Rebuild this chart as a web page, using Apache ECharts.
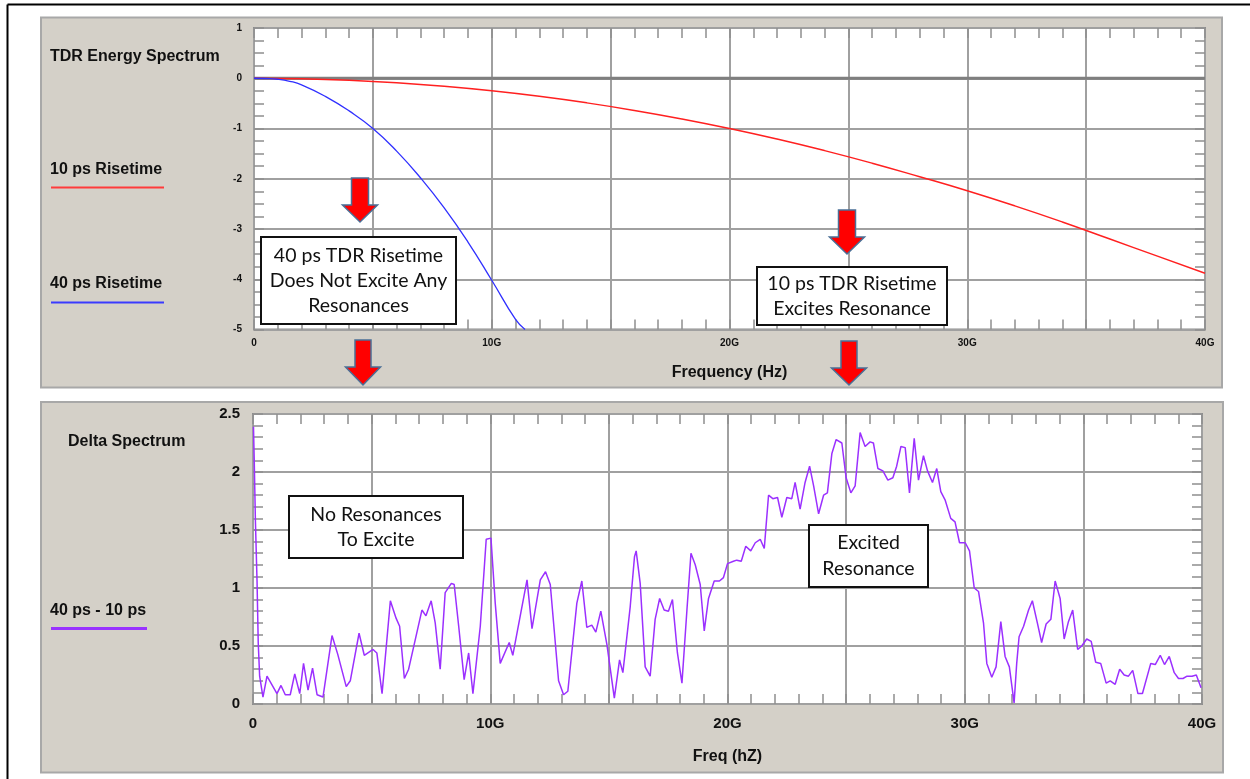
<!DOCTYPE html>
<html><head><meta charset="utf-8">
<script src="https://cdn.jsdelivr.net/npm/echarts@6/dist/echarts.min.js"></script>
<style>html,body{margin:0;padding:0;background:#fff}#c{width:1250px;height:779px}</style>
</head><body><div id="c"></div>
<script>
// ---------- data ----------
const xTickLabels = ['0', '10G', '20G', '30G', '40G'];

// TDR energy spectrum, 10 ps risetime (red)
const freq10ps = [0, 2, 4, 6, 8, 10, 12, 14, 16, 18, 20, 22, 24, 26, 28, 30, 32, 34, 36, 38, 40];
const energy10ps = [0, -0.01, -0.04, -0.09, -0.16, -0.25, -0.36, -0.49, -0.64, -0.81, -1.0, -1.21, -1.44, -1.69, -1.96, -2.24, -2.54, -2.86, -3.2, -3.54, -3.88];

// TDR energy spectrum, 40 ps risetime (blue)
const freq40ps = [0, 0.5, 1, 1.5, 2, 3, 4, 5, 6, 7, 8, 9, 10, 11, 11.4];
const energy40ps = [0, -0.005, -0.02, -0.06, -0.13, -0.36, -0.65, -1.0, -1.45, -1.98, -2.58, -3.26, -4.02, -4.8, -5.0];

// Delta spectrum (40 ps - 10 ps), purple
const deltaFreq = [0.02, 0.05, 0.1, 0.17, 0.22, 0.28, 0.42, 0.59, 1.01, 1.18, 1.36, 1.57, 1.76, 1.97, 2.13, 2.32, 2.51, 2.7, 2.95, 3.33, 3.57, 3.93, 4.1, 4.47, 4.69, 5.06, 5.22, 5.44, 5.79, 6.03, 6.18, 6.38, 6.56, 7.12, 7.29, 7.51, 7.68, 7.89, 8.1, 8.36, 8.48, 8.67, 8.9, 9.09, 9.27, 9.58, 9.83, 10.03, 10.21, 10.42, 10.8, 10.95, 11.55, 11.76, 12.11, 12.33, 12.53, 12.88, 13.09, 13.27, 13.65, 13.86, 14.07, 14.28, 14.45, 14.66, 14.92, 15.23, 15.45, 15.59, 15.9, 16.08, 16.15, 16.32, 16.53, 16.74, 16.95, 17.14, 17.33, 17.51, 17.68, 17.89, 18.08, 18.29, 18.46, 18.64, 18.85, 19.02, 19.2, 19.44, 19.66, 19.83, 20.0, 20.25, 20.39, 20.58, 20.77, 20.98, 21.17, 21.38, 21.55, 21.62, 21.73, 21.91, 22.11, 22.29, 22.5, 22.71, 22.85, 23.06, 23.27, 23.46, 23.63, 23.84, 24.05, 24.21, 24.4, 24.58, 24.82, 25.0, 25.2, 25.38, 25.59, 25.8, 26.01, 26.15, 26.34, 26.55, 26.76, 26.97, 27.13, 27.31, 27.49, 27.67, 27.87, 28.05, 28.26, 28.43, 28.64, 28.82, 28.99, 29.17, 29.41, 29.59, 29.78, 30.02, 30.2, 30.4, 30.58, 30.79, 30.93, 31.14, 31.32, 31.52, 31.7, 31.88, 32.08, 32.19, 32.29, 32.48, 32.69, 32.85, 33.06, 33.24, 33.43, 33.63, 33.81, 34.02, 34.19, 34.37, 34.55, 34.76, 34.93, 35.14, 35.33, 35.52, 35.73, 35.96, 36.13, 36.34, 36.53, 36.72, 36.9, 37.08, 37.3, 37.49, 37.84, 38.03, 38.24, 38.42, 38.62, 38.83, 39.01, 39.2, 39.37, 39.58, 39.76, 39.96];
const deltaValue = [2.39, 2.12, 1.59, 1.06, 0.53, 0.24, 0.06, 0.24, 0.09, 0.16, 0.08, 0.08, 0.26, 0.09, 0.35, 0.12, 0.31, 0.08, 0.06, 0.59, 0.43, 0.15, 0.2, 0.61, 0.42, 0.47, 0.44, 0.09, 0.89, 0.74, 0.67, 0.22, 0.30, 0.81, 0.76, 0.89, 0.70, 0.30, 0.96, 1.04, 1.03, 0.67, 0.21, 0.44, 0.09, 0.67, 1.42, 1.43, 0.87, 0.35, 0.53, 0.42, 1.07, 0.65, 1.07, 1.14, 1.03, 0.20, 0.08, 0.11, 0.87, 1.06, 0.66, 0.68, 0.62, 0.80, 0.51, 0.05, 0.38, 0.27, 0.84, 1.27, 1.32, 1.04, 0.32, 0.24, 0.73, 0.91, 0.81, 0.80, 0.90, 0.44, 0.18, 0.81, 1.30, 1.20, 1.03, 0.63, 0.91, 1.06, 1.06, 1.09, 1.21, 1.23, 1.24, 1.23, 1.36, 1.32, 1.39, 1.42, 1.34, 1.52, 1.80, 1.77, 1.78, 1.61, 1.78, 1.77, 1.91, 1.68, 1.91, 2.05, 1.88, 1.64, 1.80, 1.82, 2.16, 2.28, 2.25, 1.95, 1.82, 1.88, 2.34, 2.22, 2.26, 2.25, 2.03, 2.01, 1.93, 1.95, 2.05, 2.22, 2.21, 1.82, 2.29, 1.93, 2.14, 2.01, 1.91, 2.03, 1.83, 1.76, 1.60, 1.57, 1.39, 1.39, 1.32, 1.00, 0.97, 0.70, 0.35, 0.23, 0.32, 0.71, 0.41, 0.32, 0.01, 0.35, 0.58, 0.67, 0.81, 0.89, 0.70, 0.53, 0.69, 0.73, 1.06, 0.91, 0.56, 0.71, 0.81, 0.47, 0.50, 0.56, 0.54, 0.36, 0.35, 0.18, 0.20, 0.17, 0.30, 0.25, 0.24, 0.29, 0.09, 0.09, 0.35, 0.34, 0.42, 0.34, 0.41, 0.27, 0.22, 0.22, 0.24, 0.24, 0.25, 0.14];

// ---------- chart ----------
const zip = (xs, ys) => xs.map((x, i) => [x, ys[i]]);
const LBL = '"Liberation Sans", Arial, sans-serif';
const BOX = 'Lato, "Open Sans", sans-serif';
const GRID_C = '#a0a0a0';
const TICK_C = '#8f8f8f';

function xAxis(gi, pos, fs, margin, name, nameGap) {
  return {
    type: 'value', gridIndex: gi, position: pos, min: 0, max: 40, interval: 5,
    axisLine: { show: false, onZero: false },
    axisTick: { show: true, inside: true, length: 10, lineStyle: { color: TICK_C, width: 1.5 } },
    minorTick: { show: true, splitNumber: 5, length: 10, lineStyle: { color: TICK_C, width: 1.5 } },
    splitLine: { show: pos === 'bottom', lineStyle: { color: GRID_C, width: 2 } },
    minorSplitLine: { show: false },
    axisLabel: pos === 'bottom' ? {
      show: true, margin: margin, color: '#111', fontSize: fs, fontWeight: 'bold', fontFamily: LBL,
      formatter: v => (v % 10 === 0 ? xTickLabels[v / 10] : '')
    } : { show: false },
    name: pos === 'bottom' ? name : '', nameLocation: 'middle', nameGap: nameGap,
    nameTextStyle: { color: '#111', fontSize: 16, fontWeight: 'bold', fontFamily: LBL }
  };
}
function yAxis(gi, pos, min, max, interval, split, fs, margin) {
  return {
    type: 'value', gridIndex: gi, position: pos, min: min, max: max, interval: interval,
    axisLine: { show: false, onZero: false },
    axisTick: { show: true, inside: true, length: 10, lineStyle: { color: TICK_C, width: 1.5 } },
    minorTick: { show: true, splitNumber: split, length: 10, lineStyle: { color: TICK_C, width: 1.5 } },
    splitLine: { show: pos === 'left', lineStyle: { color: GRID_C, width: 2 } },
    axisLabel: pos === 'left' ? { show: true, margin: margin, color: '#111', fontSize: fs, fontWeight: 'bold', fontFamily: LBL } : { show: false }
  };
}

function arrow(cx, yTop, yHead, yTip, sh, hh) {
  return {
    type: 'polygon', z: 100,
    shape: { points: [[cx - sh, yTop], [cx + sh, yTop], [cx + sh, yHead], [cx + hh, yHead], [cx, yTip], [cx - hh, yHead], [cx - sh, yHead]] },
    style: { fill: '#ff0000', stroke: '#4a6f96', lineWidth: 1.5 }
  };
}
function box(x, y, w, h, lines, lineH) {
  const els = [{ type: 'rect', z: 100, shape: { x: x, y: y, width: w, height: h }, style: { fill: '#fff', stroke: '#111', lineWidth: 2 } }];
  const cy = y + h / 2 - (lines.length - 1) * lineH / 2;
  lines.forEach((t, i) => els.push({
    type: 'text', z: 101, x: x + w / 2, y: cy + i * lineH,
    style: { text: t, fill: '#111', font: '19.5px ' + BOX, textAlign: 'center', textVerticalAlign: 'middle' }
  }));
  return els;
}
function label(x, y, t) {
  return { type: 'text', z: 50, x: x, y: y, style: { text: t, fill: '#111', font: 'bold 16px ' + LBL, textAlign: 'left', textVerticalAlign: 'middle' } };
}
function uline(x1, x2, y, c, w) {
  return { type: 'line', z: 50, shape: { x1: x1, y1: y, x2: x2, y2: y }, style: { stroke: c, lineWidth: w } };
}

const graphics = [
  // outer frame
  { type: 'line', z: -200, shape: { x1: 7.5, y1: 4.5, x2: 1250, y2: 4.5 }, style: { stroke: '#000', lineWidth: 2 } },
  { type: 'line', z: -200, shape: { x1: 7.5, y1: 4.5, x2: 7.5, y2: 779 }, style: { stroke: '#000', lineWidth: 2 } },
  // panels
  { type: 'rect', z: -100, shape: { x: 41, y: 17.5, width: 1181, height: 370 }, style: { fill: '#d4d0c8', stroke: '#a8a8a8', lineWidth: 2 } },
  { type: 'rect', z: -100, shape: { x: 41, y: 402, width: 1182, height: 370.5 }, style: { fill: '#d4d0c8', stroke: '#a8a8a8', lineWidth: 2 } },
  // plot backgrounds
  { type: 'rect', z: -50, shape: { x: 254, y: 28, width: 951, height: 301.5 }, style: { fill: '#ffffff' } },
  { type: 'rect', z: -50, shape: { x: 253, y: 414, width: 949, height: 290 }, style: { fill: '#ffffff' } },
  // side labels
  label(50, 57, 'TDR Energy Spectrum'),
  label(50, 170, '10 ps Risetime'), uline(51, 164, 187.5, '#ff3b3b', 2),
  label(50, 284, '40 ps Risetime'), uline(51, 164, 302.5, '#3a3aff', 2),
  label(68, 442, 'Delta Spectrum'),
  label(50, 611, '40 ps - 10 ps'), uline(51, 147, 628.5, '#9933ff', 3),
  // arrows
  arrow(360, 178, 205, 222, 8.5, 17.5),
  arrow(363, 340, 367, 385, 8, 17.5),
  arrow(847, 210, 237, 254, 8.5, 17.5),
  arrow(849, 341, 368, 385, 8, 17.5),
  // annotation boxes
  ...box(261, 237, 195, 87, ['40 ps TDR Risetime', 'Does Not Excite Any', 'Resonances'], 25),
  ...box(757, 267, 190, 58, ['10 ps TDR Risetime', 'Excites Resonance'], 25),
  ...box(289, 496, 174, 62, ['No Resonances', 'To Excite'], 25),
  ...box(809, 525, 119, 62, ['Excited', 'Resonance'], 26)
];

const option = {
  backgroundColor: '#ffffff',
  animation: false,
  grid: [
    { left: 254, top: 28, width: 951, height: 301.5, show: true, backgroundColor: 'transparent', borderColor: '#8c8c8c', borderWidth: 2 },
    { left: 253, top: 414, width: 949, height: 290, show: true, backgroundColor: 'transparent', borderColor: '#8c8c8c', borderWidth: 2 }
  ],
  xAxis: [
    xAxis(0, 'bottom', 10, 9, 'Frequency (Hz)', 35),
    xAxis(0, 'top', 10, 8, '', 0),
    xAxis(1, 'bottom', 15, 12, 'Freq (hZ)', 45),
    xAxis(1, 'top', 15, 12, '', 0)
  ],
  yAxis: [
    yAxis(0, 'left', -5, 1, 1, 4, 10, 12),
    yAxis(0, 'right', -5, 1, 1, 4, 10, 12),
    yAxis(1, 'left', 0, 2.5, 0.5, 5, 15, 13),
    yAxis(1, 'right', 0, 2.5, 0.5, 5, 15, 13)
  ],
  series: [
    { name: 'zero', type: 'line', xAxisIndex: 0, yAxisIndex: 0, data: [[0, 0], [40, 0]], symbol: 'none', lineStyle: { color: '#7f7f7f', width: 3 }, z: 2, silent: true },
    { name: '10 ps Risetime', type: 'line', xAxisIndex: 0, yAxisIndex: 0, data: zip(freq10ps, energy10ps), smooth: true, symbol: 'none', lineStyle: { color: '#ff2020', width: 1.5 }, z: 3 },
    { name: '40 ps Risetime', type: 'line', xAxisIndex: 0, yAxisIndex: 0, data: zip(freq40ps, energy40ps), smooth: true, symbol: 'none', lineStyle: { color: '#3030ff', width: 1.3 }, z: 3 },
    { name: '40 ps - 10 ps', type: 'line', xAxisIndex: 2, yAxisIndex: 2, data: zip(deltaFreq, deltaValue), symbol: 'none', lineStyle: { color: '#9b30ff', width: 1.5 }, z: 3 }
  ],
  graphic: { elements: graphics }
};

const chart = echarts.init(document.getElementById('c'), null, { renderer: 'canvas' });
chart.setOption(option);
</script>
</body></html>
